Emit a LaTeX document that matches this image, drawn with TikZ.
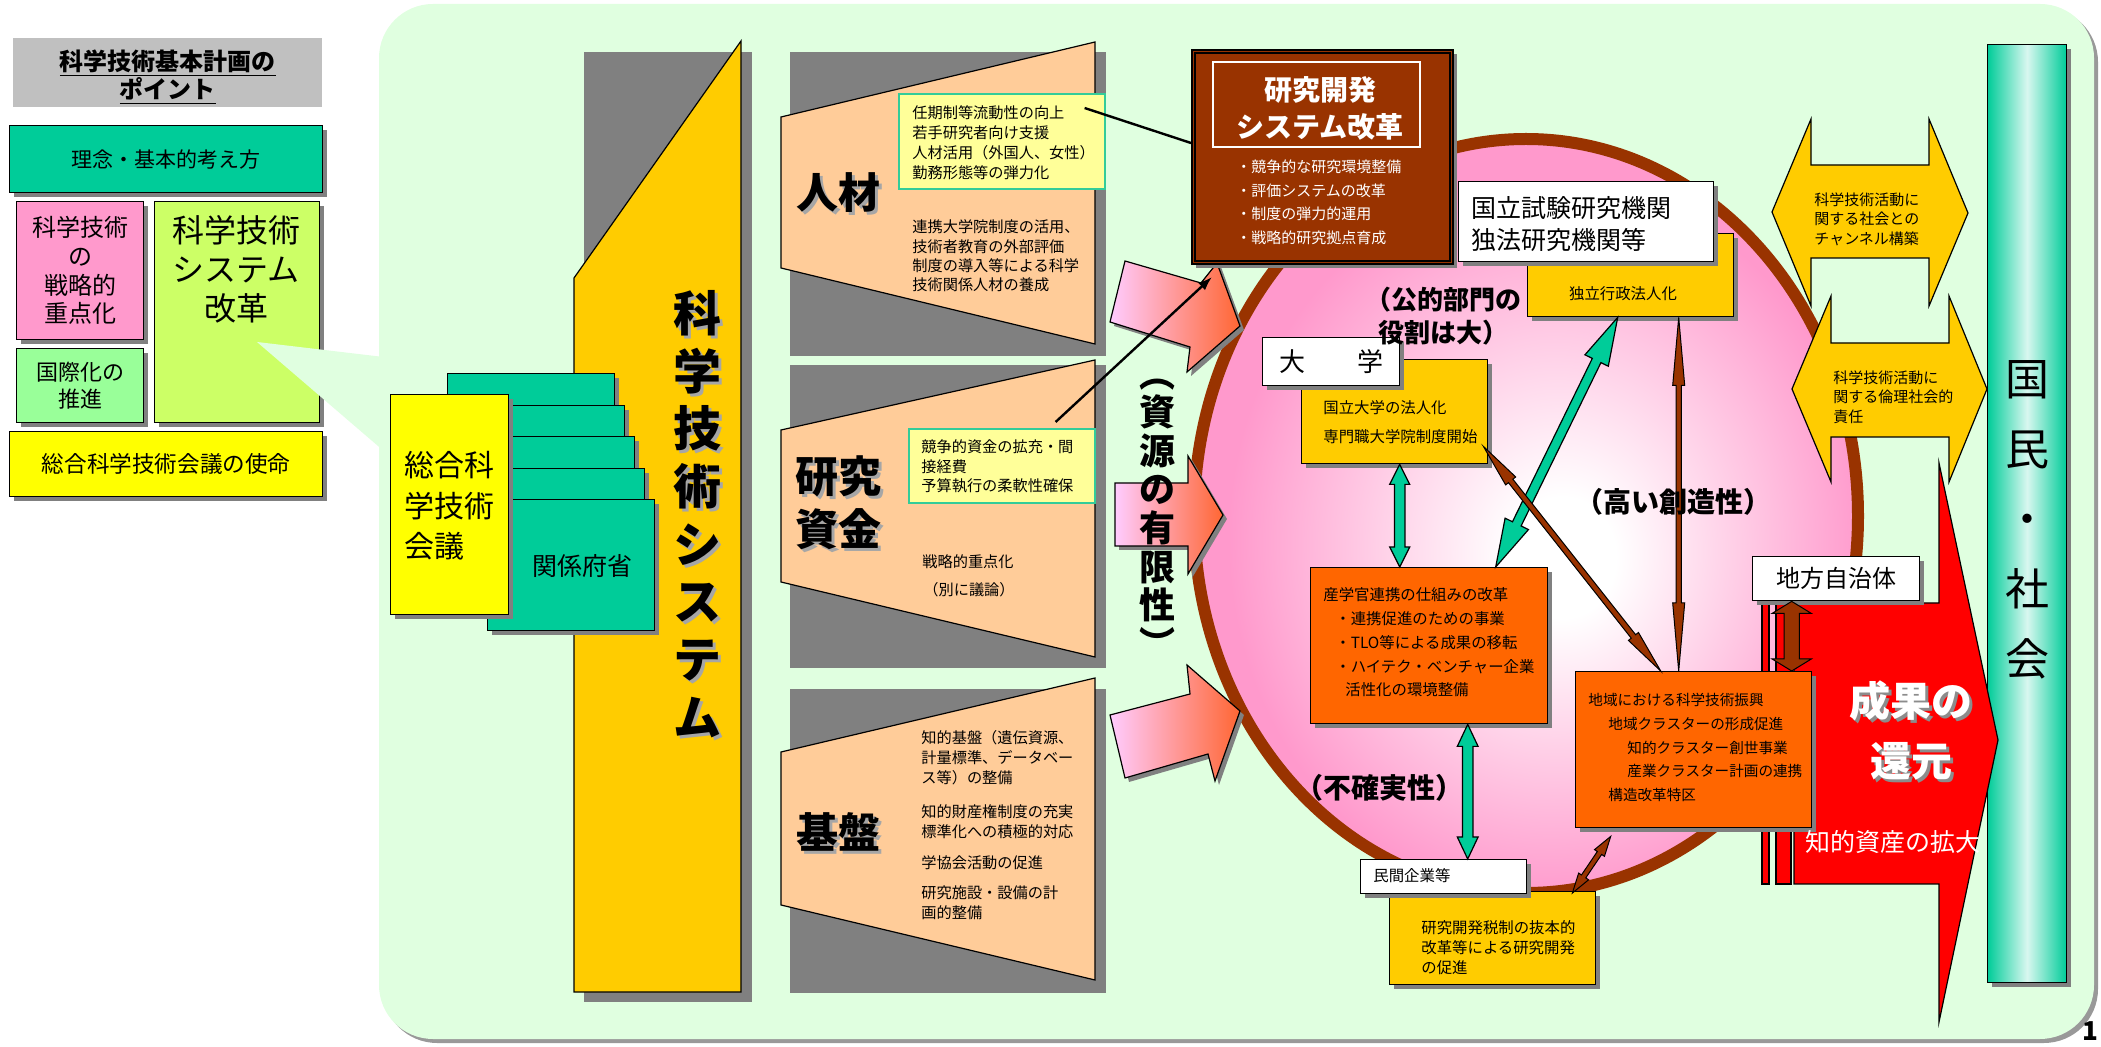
\documentclass[tikz,border=0pt]{standalone}
\usepackage{fontspec}
\setmainfont{Noto Sans CJK JP}
\usetikzlibrary{calc,shadows,arrows.meta}
\definecolor{mint}{HTML}{E0FFE0}
\definecolor{titlegray}{HTML}{C0C0C0}
\definecolor{tealc}{HTML}{00CC99}
\definecolor{pinkbox}{HTML}{FF99CC}
\definecolor{ltgreen}{HTML}{99FF99}
\definecolor{lime}{HTML}{CCFF66}
\definecolor{yel}{HTML}{FFFF00}
\definecolor{gold}{HTML}{FFCC00}
\definecolor{peach}{HTML}{FFCC99}
\definecolor{midgray}{HTML}{808080}
\definecolor{paley}{HTML}{FFFF99}
\definecolor{palebd}{HTML}{33CC99}
\definecolor{brownc}{HTML}{993300}
\definecolor{orng}{HTML}{FF6600}
\definecolor{redc}{HTML}{FF0000}
\definecolor{pinkc}{HTML}{FF99CC}
\definecolor{lilac}{HTML}{FFCCFF}
\definecolor{salmon}{HTML}{FF6633}
\pgfdeclareradialshading{ellsh}{\pgfpoint{3bp}{-3bp}}{color(0bp)=(white); color(4bp)=(white); color(24bp)=(pinkc); color(50bp)=(pinkc)}
\newcommand\fsz[2]{\fontsize{#1pt}{#2pt}\selectfont}
\newcommand\rbox[7]{\node[#2,anchor=north west,inner sep=0pt,minimum width={(#5-#3)*0.5pt},minimum height={(#6-#4)*0.5pt}] (#1) at (#3,#4) {#7};}
\newcommand\dblarr[6]{%
 \path (#2) coordinate (da-A) (#3) coordinate (da-B);
 \path ($(da-A)!#6!(da-B)$) coordinate (da-H1) ($(da-B)!#6!(da-A)$) coordinate (da-H2);
 \draw[#1] (da-A) -- ($(da-H1)!#5!90:(da-B)$) -- ($(da-H1)!#4!90:(da-B)$) -- ($(da-H2)!#4!-90:(da-A)$) -- ($(da-H2)!#5!-90:(da-A)$) -- (da-B) -- ($(da-H2)!#5!90:(da-A)$) -- ($(da-H2)!#4!90:(da-A)$) -- ($(da-H1)!#4!-90:(da-B)$) -- ($(da-H1)!#5!-90:(da-B)$) -- cycle;}
\begin{document}
\begin{tikzpicture}[x=0.5pt,y=-0.5pt,
  ol/.style={draw=black,line width=0.6pt},
  shad/.style={drop shadow={shadow xshift=2pt,shadow yshift=-2pt,fill=black!50,opacity=1}},
  box/.style={draw=black,line width=0.7pt,shad},
  wbox/.style={box,fill=white},
  gbox/.style={box,fill=gold},
  obox/.style={box,fill=orng},
  pale/.style={draw=palebd,fill=paley,line width=0.8pt},
  tl/.style={inner sep=0pt,anchor=west,align=left},
  tc/.style={inner sep=0pt,align=center},
  tsh/.style={tc,text=black!35},
  pinkarr/.style={ol,left color=lilac,middle color=pinkc,right color=salmon,shad},
  tealarr/.style={draw=black,fill=tealc,line width=0.6pt},
  brarr/.style={draw=black,fill=brownc,line width=0.5pt}]
\useasboundingbox (0,0) rectangle (2101,1047);
\fill[white] (0,0) rectangle (2101,1047);
% main panel
\fill[mint,rounded corners=27pt,drop shadow={shadow xshift=2pt,shadow yshift=-2pt,fill=black!40,opacity=1}] (379,4) rectangle (2094,1039);
% left column
\rbox{ttl}{fill=titlegray}{13}{38}{322}{107}{}
\node[tc,font=\fsz{12}{14}\bfseries] (ttltxt) at (168,77) {\underline{科学技術基本計画の}\\\underline{ポイント}};
\rbox{rinen}{box,fill=tealc,font=\fsz{10.5}{12}}{9}{125}{322}{192}{理念・基本的考え方}
\rbox{senr}{box,fill=pinkbox,align=center,font=\fsz{12}{14.3}}{16}{201}{143}{339}{科学技術\\の\\戦略的\\重点化}
\rbox{kokusai}{box,fill=ltgreen,align=center,font=\fsz{11}{13.5}}{16}{348}{143}{422}{国際化の\\推進}
\rbox{sysk}{box,fill=lime}{154}{201}{319}{422}{}
\node[tc,font=\fsz{16}{19.5}] (syskt) at (236,269) {科学技術\\システム\\改革};
\rbox{shimei}{box,fill=yel,font=\fsz{11.3}{13}}{9}{431}{322}{496}{総合科学技術会議の使命}
\fill[mint] (257,342) -- (392,358) -- (392,458) -- cycle;
% science & technology system
\fill[midgray] (584,52) rectangle (752,1002);
\draw[ol,fill=gold] (574,278) -- (741,41) -- (741,992) -- (574,992) -- cycle;
\node[tsh,font=\fsz{24}{28.85}\bfseries] (kgssh) at (700,517) {科\\学\\技\\術\\シ\\ス\\テ\\ム};
\node[tc,font=\fsz{24}{28.85}\bfseries] (kgs) at (697,514) {科\\学\\技\\術\\シ\\ス\\テ\\ム};
\rbox{kb1}{box,fill=tealc}{447}{373}{614}{504}{}
\rbox{kb2}{box,fill=tealc}{457}{405}{624}{536}{}
\rbox{kb3}{box,fill=tealc}{467}{436}{634}{567}{}
\rbox{kb4}{box,fill=tealc}{477}{468}{644}{599}{}
\rbox{kb5}{box,fill=tealc}{487}{499}{654}{630}{}
\node[tc,font=\fsz{12.5}{14}] (kbt) at (582,566) {関係府省};
\rbox{sogo}{box,fill=yel}{390}{394}{508}{614}{}
\node[tl,font=\fsz{15}{20.3}] (sogot) at (404,506) {総合科\\学技術\\会議};
% jinzai
\fill[midgray] (790,52) rectangle (1106,356);
\draw[ol,fill=peach] (781,117) -- (1095,42) -- (1095,344) -- (781,268) -- cycle;
\node[tsh,font=\fsz{21}{24}\bfseries] (jinzaish) at (841,196) {人材};
\node[tc,font=\fsz{21}{24}\bfseries] (jinzai) at (838,193) {人材};
\rbox{pale1}{pale}{898}{93}{1104}{188}{}
\node[tl,font=\fsz{7.6}{10}] (pale1t) at (912,143) {任期制等流動性の向上\\若手研究者向け支援\\人材活用（外国人、女性）\\勤務形態等の弾力化};
\node[tl,font=\fsz{7.6}{9.67}] (jint2) at (912,256) {連携大学院制度の活用、\\技術者教育の外部評価\\制度の導入等による科学\\技術関係人材の養成};
% kenkyu shikin
\fill[midgray] (790,365) rectangle (1106,668);
\draw[ol,fill=peach] (781,430) -- (1095,360) -- (1095,657) -- (781,582) -- cycle;
\node[tsh,font=\fsz{21.5}{26.5}\bfseries] (shikinsh) at (841,506) {研究\\資金};
\node[tc,font=\fsz{21.5}{26.5}\bfseries] (shikin) at (838,503) {研究\\資金};
\rbox{pale2}{pale}{908}{428}{1094}{502}{}
\node[tl,font=\fsz{7.6}{9.75}] (pale2t) at (921,466.5) {競争的資金の拡充・間\\接経費\\予算執行の柔軟性確保};
\node[tc,font=\fsz{7.6}{9}] (juten) at (968,562) {戦略的重点化};
\node[tc,font=\fsz{7.6}{9}] (betsu) at (969,590) {（別に議論）};
% kiban
\fill[midgray] (790,689) rectangle (1106,993);
\draw[ol,fill=peach] (781,752) -- (1095,678) -- (1095,980) -- (781,905) -- cycle;
\node[tsh,font=\fsz{21}{24}\bfseries] (kibansh) at (841,835) {基盤};
\node[tc,font=\fsz{21}{24}\bfseries] (kiban) at (838,832) {基盤};
\node[tl,font=\fsz{7.6}{10}] (kb1t) at (921,758) {知的基盤（遺伝資源、\\計量標準、データベー\\ス等）の整備};
\node[tl,font=\fsz{7.6}{10}] (kb2t) at (921,822) {知的財産権制度の充実\\標準化への積極的対応};
\node[tl,font=\fsz{7.6}{10}] (kb3t) at (921,863) {学協会活動の促進};
\node[tl,font=\fsz{7.6}{10}] (kb4t) at (921,903) {研究施設・設備の計\\画的整備};
% ellipse
\shadedraw[shading=ellsh,draw=brownc,line width=6pt] (1526,516) ellipse [x radius=332, y radius=377];
% pink arrows
\draw[pinkarr] (1125,261) -- (1201,283) -- (1217,263) -- (1240,326) -- (1187,372) -- (1190,347) -- (1110,322) -- cycle;
\draw[pinkarr] (1115,483) -- (1188,483) -- (1188,456) -- (1223,515) -- (1188,574) -- (1188,546) -- (1115,546) -- cycle;
\draw[pinkarr] (1110,715) -- (1190,694) -- (1187,665) -- (1240,711) -- (1215,781) -- (1208,754) -- (1125,778) -- cycle;
\node[tc,font=\fsz{18}{19.3}\bfseries] (yugen) at (1157,518) {︵\\資\\源\\の\\有\\限\\性\\︶};
% R&D system reform box
\rbox{rdbox}{draw=black,line width=1pt,fill=brownc,shad}{1191}{49}{1452}{263}{}
\draw[line width=1pt] ($(rdbox.north west)+(4,4)$) rectangle ($(rdbox.south east)+(-4,-4)$);
\draw[white,line width=0.7pt] (1213,62) rectangle (1420,147);
\node[tc,font=\fsz{14}{18.5}\bfseries,text=white] (rdt) at (1320,108) {研究開発\\システム改革};
\node[tl,font=\fsz{7.5}{11.8},text=white] (rdb) at (1236,202.5) {・競争的な研究環境整備\\・評価システムの改革\\・制度の弾力的運用\\・戦略的研究拠点育成};
% nation / society bar
\rbox{kokumin}{draw=black,line width=0.6pt,left color=tealc,right color=tealc,middle color=white!85!tealc,shad}{1987}{44}{2066}{982}{}
\node[tc,font=\fsz{22}{35}] (kokmt) at (2027,520) {国\\民\\・\\社\\会};
% yellow double arrows
\draw[ol,fill=gold] (1772,212) -- (1811,119) -- (1811,165) -- (1929,165) -- (1929,119) -- (1968,213) -- (1929,306) -- (1929,258) -- (1811,258) -- (1811,306) -- cycle;
\node[tl,font=\fsz{7.5}{9.75}] (chant) at (1814,219) {科学技術活動に\\関する社会との\\チャンネル構築};
\draw[ol,fill=gold] (1792,389) -- (1831,296) -- (1831,343) -- (1949,343) -- (1949,296) -- (1987,389) -- (1949,482) -- (1949,437) -- (1831,437) -- (1831,482) -- cycle;
\node[tl,font=\fsz{7.5}{9.75}] (rinrit) at (1833,397) {科学技術活動に\\関する倫理社会的\\責任};
% red arrow
\draw[ol,fill=redc] (1794,603) -- (1939,603) -- (1939,463) -- (1998,740) -- (1939,1022) -- (1939,884) -- (1794,884) -- cycle;
\draw[ol,fill=redc] (1762,603) rectangle (1769,884);
\draw[ol,fill=redc] (1776,603) rectangle (1791,884);
% boxes inside ellipse
\rbox{dokur}{gbox}{1527}{233}{1733}{316}{}
\rbox{kokur}{wbox}{1458}{181}{1713}{261}{}
\node[tl,font=\fsz{12.5}{16}] (kokurt) at (1471,224) {国立試験研究機関\\独法研究機関等};
\node[tc,font=\fsz{7.7}{9}] (dokurt) at (1623,294) {独立行政法人化};
\rbox{dyg}{gbox}{1301}{359}{1487}{463}{}
\rbox{daig}{wbox,font=\fsz{13}{15}}{1262}{337}{1399}{385}{大\hspace{2em}学}
\node[tl,font=\fsz{7.7}{14.5}] (dygt) at (1323,422.5) {国立大学の法人化\\専門職大学院制度開始};
\rbox{sangaku}{obox}{1310}{567}{1547}{723}{}
\node[tl,font=\fsz{7.7}{11.9}] (sgt) at (1323,642.5) {産学官連携の仕組みの改革\\\hspace*{6pt}・連携促進のための事業\\\hspace*{6pt}・TLO等による成果の移転\\\hspace*{6pt}・ハイテク・ベンチャー企業\\\hspace*{11pt}活性化の環境整備};
\rbox{mkg}{gbox}{1389}{891}{1595}{984}{}
\rbox{minkan}{wbox}{1360}{859}{1526}{893}{}
\node[tl,font=\fsz{7.7}{9}] (mkt) at (1373,876) {民間企業等};
\node[tl,font=\fsz{7.7}{10}] (mkgt) at (1421,948) {研究開発税制の抜本的\\改革等による研究開発\\の促進};
\rbox{chiho}{wbox,font=\fsz{12}{14}}{1752}{556}{1919}{600}{地方自治体}
\rbox{chiiki}{obox}{1575}{671}{1811}{827}{}
\node[tl,font=\fsz{7.3}{11.9}] (chiikit) at (1588,747.5) {地域における科学技術振興\\\hspace*{10pt}地域クラスターの形成促進\\\hspace*{19.5pt}知的クラスター創世事業\\\hspace*{19.5pt}産業クラスター計画の連携\\\hspace*{10pt}構造改革特区};
% connectors
\coordinate (a1s) at ($(dyg.south)+(5,0)$);
\coordinate (a1e) at ($(sangaku.north)+(-29.5,0)$);
\coordinate (a2s) at ($(sangaku.south)+(38.5,0)$);
\coordinate (a2e) at ($(minkan.north)+(24,0)$);
\coordinate (a3s) at ($(dokur.south)+(-13,0)$);
\coordinate (a3e) at ($(sangaku.north)+(66.5,0)$);
\coordinate (b1s) at ($(dyg.south east)+(-5,-18)$);
\coordinate (b1e) at ($(chiiki.north)+(-33,0)$);
\coordinate (b2s) at ($(dokur.south)+(48,0)$);
\coordinate (b2e) at ($(chiiki.north)+(-15,0)$);
\coordinate (b3s) at ($(mkg.north east)+(-24,2)$);
\coordinate (b3e) at ($(chiiki.south)+(-83,8)$);
\coordinate (b4s) at ($(chiho.south)+(-44.5,0)$);
\coordinate (b4e) at ($(chiiki.north)+(98,0)$);
\dblarr{tealarr}{a1s}{a1e}{2.6pt}{5pt}{10pt}
\dblarr{tealarr}{a2s}{a2e}{2.6pt}{5.2pt}{11pt}
\dblarr{tealarr}{a3s}{a3e}{2.4pt}{6.5pt}{24pt}
\dblarr{brarr}{b1s}{b1e}{1.4pt}{3.2pt}{22pt}
\dblarr{brarr}{b2s}{b2e}{1.3pt}{3pt}{34pt}
\dblarr{brarr}{b3s}{b3e}{1.3pt}{3pt}{10pt}
\dblarr{brarr}{b4s}{b4e}{3.8pt}{9.8pt}{6pt}
\coordinate (l1s) at ($(pale1.north east)+(-21,15)$);
\coordinate (l1e) at ($(rdbox.west)+(0,-14)$);
\draw[line width=1.2pt] (l1s) -- (l1e);
\coordinate (l2s) at ($(pale2.north east)+(-40,-6)$);
\coordinate (l2e) at ($(rdbox.south west)+(21,12)$);
\draw[line width=1.2pt,-{Latex[length=7pt,width=5pt]}] (l2s) -- (l2e);
% labels
\node[tc,font=\fsz{13}{16.5}\bfseries] (kobu) at (1443,316.5) {（公的部門の\\役割は大）};
\node[tc,font=\fsz{14}{16}\bfseries] (takai) at (1673,502) {（高い創造性）};
\node[tc,font=\fsz{14}{16}\bfseries] (fukaku) at (1379,788) {（不確実性）};
\node[tc,font=\fsz{20.5}{30}\bfseries,text=black!45] (seikash) at (1914,734) {成果の\\還元};
\node[tc,font=\fsz{20.5}{30}\bfseries,text=white] (seika) at (1911,731) {成果の\\還元};
\node[tc,font=\fsz{12.5}{14},text=white] (chiteki) at (1893,842) {知的資産の拡大};
\node[tc,font=\fsz{13}{13}\bfseries] (pnum) at (2090,1031) {1};
\end{tikzpicture}
\end{document}
